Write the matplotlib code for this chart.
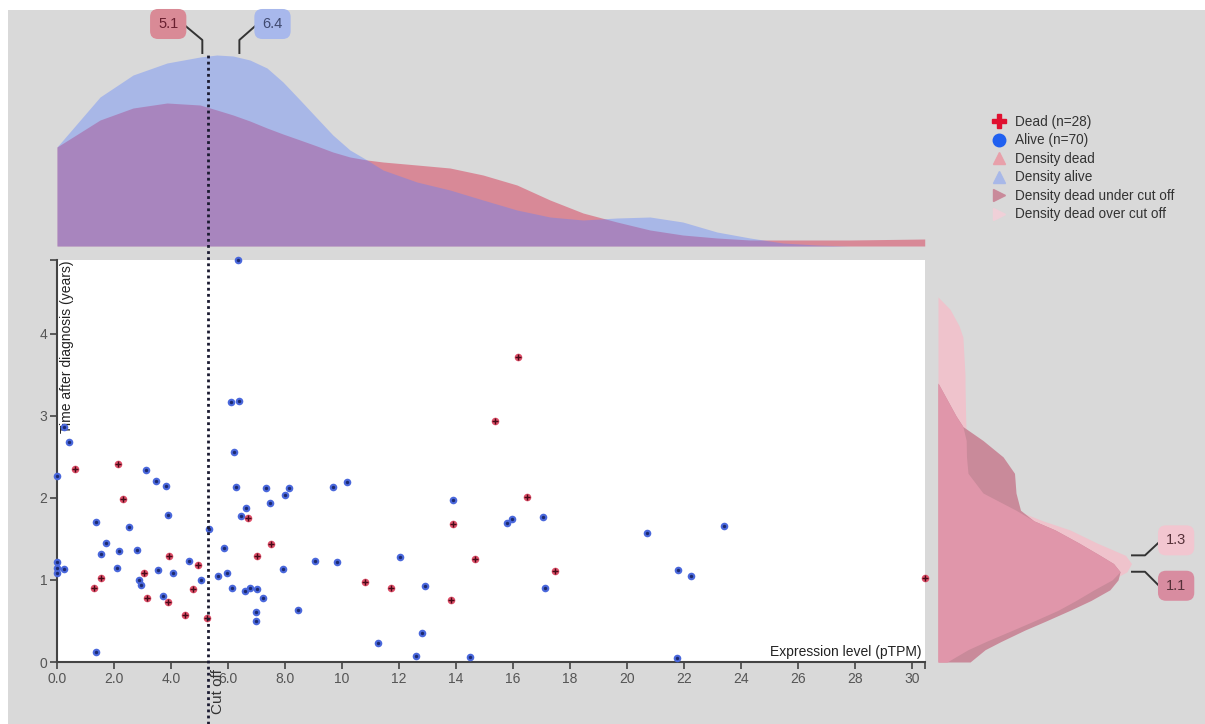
import numpy as np
import matplotlib.pyplot as plt
from matplotlib.lines import Line2D
from matplotlib.patches import Rectangle

plt.rcParams['font.family'] = ['Liberation Sans', 'DejaVu Sans']

# scatter data: expression level (pTPM) vs time after diagnosis (years)
alive_x = [6.34, 0.25, 0.42, 0.00, 3.12, 3.47, 3.81, 3.90, 1.37, 2.53, 1.73, 1.53, 2.19, 2.81,
           2.11, 0.00, 0.00, 0.00, 0.24, 2.88, 2.95, 3.53, 4.08, 3.71, 4.64, 5.04, 5.32, 5.64,
           5.98, 5.86, 6.13, 6.61, 6.77, 7.03, 6.98, 6.98, 7.23, 6.10, 6.37, 6.20, 6.28, 6.63,
           6.47, 7.33, 7.47, 7.99, 8.13, 7.93, 8.47, 1.37, 9.67, 10.18, 13.90, 15.80, 15.96,
           17.05, 20.70, 9.05, 9.81, 12.03, 12.91, 17.12, 12.80, 11.26, 12.60, 14.50, 23.40,
           21.80, 22.25, 21.75]
alive_y = [4.90, 2.87, 2.68, 2.27, 2.34, 2.21, 2.14, 1.79, 1.71, 1.64, 1.45, 1.32, 1.35, 1.36,
           1.14, 1.22, 1.15, 1.08, 1.13, 1.00, 0.94, 1.12, 1.08, 0.80, 1.23, 1.00, 1.62, 1.05,
           1.09, 1.39, 0.90, 0.86, 0.90, 0.89, 0.61, 0.50, 0.78, 3.17, 3.18, 2.56, 2.13, 1.88,
           1.78, 2.12, 1.94, 2.04, 2.12, 1.13, 0.63, 0.12, 2.13, 2.19, 1.97, 1.70, 1.74,
           1.77, 1.57, 1.23, 1.22, 1.28, 0.93, 0.90, 0.35, 0.23, 0.07, 0.06, 1.66,
           1.12, 1.05, 0.05]
dead_x = [0.64, 2.13, 2.30, 3.93, 3.05, 1.54, 1.31, 3.15, 3.88, 4.50, 4.78, 4.96, 5.26,
          6.69, 7.02, 7.50, 16.18, 15.37, 16.50, 13.90, 14.67, 17.47, 10.81, 11.72, 13.82, 30.45]
dead_y = [2.35, 2.41, 1.99, 1.29, 1.09, 1.02, 0.90, 0.78, 0.73, 0.57, 0.89, 1.18, 0.54,
          1.76, 1.29, 1.44, 3.72, 2.94, 2.01, 1.68, 1.26, 1.11, 0.97, 0.90, 0.75, 1.02]

cut_off = 5.3
x_max = 30.46
y_max = 4.9

# top density curves (expression level)
dens_x = [0.0, 1.51, 2.67, 3.86, 5.02, 5.61, 6.18, 6.77, 7.37, 7.93, 8.53, 9.12, 9.68,
          10.28, 10.88, 11.44, 12.63, 13.79, 14.95, 16.14, 17.30, 18.46, 19.65, 20.81,
          21.96, 23.16, 24.32, 25.47, 26.67, 27.82, 30.45]
dens_alive = [0.0495, 0.0745, 0.0855, 0.0915, 0.0945, 0.0955, 0.095, 0.093, 0.089, 0.082,
              0.073, 0.064, 0.0555, 0.048, 0.043, 0.038, 0.032, 0.028, 0.023, 0.018, 0.0145,
              0.013, 0.014, 0.0145, 0.012, 0.007, 0.004, 0.0015, 0.0005, 0.0, 0.0]
dens_dead = [0.0495, 0.063, 0.069, 0.0715, 0.0705, 0.068, 0.0655, 0.0625, 0.059, 0.056,
             0.053, 0.05, 0.047, 0.0445, 0.043, 0.042, 0.0405, 0.039, 0.0355, 0.0305, 0.023,
             0.0165, 0.012, 0.008, 0.0055, 0.004, 0.003, 0.003, 0.003, 0.003, 0.0035]

# right density curves (time after diagnosis), dead patients
dens_t = [0.0, 0.15, 0.25, 0.39, 0.5, 0.63, 0.75, 0.88, 1.0, 1.1, 1.2, 1.3, 1.45, 1.61,
          1.72, 1.85, 2.06, 2.3, 2.5, 2.7, 2.87, 3.0, 3.2, 3.4, 3.5, 3.96, 4.1, 4.3, 4.45]
dens_under = [0.107, 0.157, 0.21, 0.29, 0.36, 0.44, 0.51, 0.573, 0.60, 0.607, 0.585, 0.54,
              0.47, 0.39, 0.32, 0.275, 0.26, 0.255, 0.217, 0.15, 0.083, 0.06, 0.03, 0.0,
              0.0, 0.0, 0.0, 0.0, 0.0]
dens_over = [0.03, 0.10, 0.16, 0.25, 0.32, 0.40, 0.46, 0.52, 0.58, 0.63, 0.645, 0.625,
             0.53, 0.44, 0.35, 0.26, 0.15, 0.10, 0.095, 0.094, 0.093, 0.092, 0.091, 0.09,
             0.09, 0.083, 0.07, 0.04, 0.0]

W, H = 1205, 724
fig = plt.figure(figsize=(W / 100, H / 100), dpi=100)
fig.patch.set_facecolor('white')
fig.add_artist(Rectangle((8 / W, 0), 1 - 8 / W, (H - 10) / H, transform=fig.transFigure,
                         facecolor='#d9d9d9', edgecolor='none', zorder=-5))

left, right, top, bottom = 57, 925, 260, 662
ax = fig.add_axes([left / W, (H - bottom) / H, (right - left) / W, (bottom - top) / H])
ax_top = fig.add_axes([left / W, (H - 246) / H, (right - left) / W, (246 - 10) / H])
ax_r = fig.add_axes([938 / W, (H - bottom) / H, (W - 938) / W, (bottom - top) / H])
ax.set_zorder(3)

# top density panel
ax_top.fill_between(dens_x, dens_dead, color='#d8405c', alpha=0.52, lw=0)
ax_top.fill_between(dens_x, dens_alive, color='#5a80ff', alpha=0.38, lw=0)
ax_top.set_xlim(0, x_max)
ax_top.set_ylim(0, 0.118)
ax_top.axis('off')

# right density panel
ax_r.fill_betweenx(dens_t, dens_over, color='#efc3cc', lw=0)
ax_r.fill_betweenx(dens_t, dens_under, color='#c98a9a', lw=0)
ax_r.fill_betweenx(dens_t, np.minimum(dens_under, dens_over), color='#e096aa', lw=0)
ax_r.set_ylim(0, y_max)
ax_r.set_xlim(0, (W - 938) / 300)
ax_r.axis('off')

# scatter
ax.set_facecolor('white')
ax.scatter(alive_x, alive_y, s=30, color='#4a68dc', lw=0, zorder=4, clip_on=False)
ax.scatter(alive_x, alive_y, s=6, color='#1c2a70', lw=0, zorder=5, clip_on=False)
ax.scatter(dead_x, dead_y, s=30, color='#e0506a', lw=0, zorder=4, clip_on=False)
ax.scatter(dead_x, dead_y, s=14, marker='+', color='#4a0a18', lw=1.0, zorder=5, clip_on=False)

ax.axvline(cut_off, ymin=(bottom - H) / (bottom - top), ymax=(bottom - 53) / (bottom - top),
           clip_on=False, color='#1a1a30', lw=2, linestyle=(0, (1, 1.2)), zorder=6)

ax.set_xlim(0, x_max)
ax.set_ylim(0, y_max)
xt = list(range(0, 31, 2))
ax.set_xticks(xt)
ax.set_xticklabels(['%.1f' % v if v < 10 else '%d' % v for v in xt])
ax.set_yticks([0, 1, 2, 3, 4])
ax.set_xticks([x_max], minor=True)
ax.set_yticks([y_max], minor=True)
for s in ['top', 'right']:
    ax.spines[s].set_visible(False)
for s in ['left', 'bottom']:
    ax.spines[s].set_color('#444444')
    ax.spines[s].set_linewidth(1.5)
ax.tick_params(which='both', direction='out', length=5, width=1.2, color='#444444',
               labelsize=10, labelcolor='#555555', pad=2)

ax.text(0.004, 1.0, 'Time after diagnosis (years)', rotation=90, ha='left', va='top',
        transform=ax.transAxes, fontsize=10, color='#222222')
ax.text(0.9955, 0.008, 'Expression level (pTPM)', ha='right', va='bottom',
        transform=ax.transAxes, fontsize=10, color='#222222')
ax.text(cut_off + 0.1, -0.018, 'Cut off', rotation=90, ha='left', va='top',
        transform=ax.get_xaxis_transform(), fontsize=11, color='#333333')

# value labels with leader lines (pixel offsets from anchor)
def leader(axes, xy, pts, text, fc, tc, ha):
    x0, y0 = axes.transData.transform(xy)
    xs = [x0 + p[0] for p in pts]
    ys = [y0 + p[1] for p in pts]
    fig.add_artist(Line2D(xs, ys, transform=None, color='#333333', lw=1.4, zorder=10))
    fig.text(xs[-1] + (-6 if ha == 'right' else 6), ys[-1] + 1, text, transform=None,
             ha=ha, va='center', fontsize=10.5, color=tc, zorder=11,
             bbox=dict(boxstyle='round,pad=0.55', fc=fc, ec='none'))

peak_top = (246 - 53) / 2000
leader(ax_top, (5.1, peak_top), [(0, 0), (0, 13), (-18, 28)], '5.1', '#d98a96', '#6a2030', 'right')
leader(ax_top, (6.4, peak_top), [(0, 0), (0, 13), (17, 28)], '6.4', '#a8b8ec', '#404a70', 'left')
x_anchor = (1132 - 938) / 300
leader(ax_r, (x_anchor, 1.3), [(0, 0), (13, 0), (28, 14)], '1.3', '#f2c6d0', '#553038', 'left')
leader(ax_r, (x_anchor, 1.1), [(0, 0), (13, 0), (28, -15)], '1.1', '#d88ca0', '#553038', 'left')

handles = [
    Line2D([], [], ls='', marker='P', ms=10, color='#e01030'),
    Line2D([], [], ls='', marker='o', ms=9, color='#2060f0'),
    Line2D([], [], ls='', marker='^', ms=9, color='#e8a0aa'),
    Line2D([], [], ls='', marker='^', ms=9, color='#a8b8e8'),
    Line2D([], [], ls='', marker='>', ms=9, color='#c98a9a'),
    Line2D([], [], ls='', marker='>', ms=9, color='#f0d0d8'),
]
labels = ['Dead (n=28)', 'Alive (n=70)', 'Density dead', 'Density alive',
          'Density dead under cut off', 'Density dead over cut off']
fig.legend(handles, labels, loc='upper left', bbox_to_anchor=(984 / W, 1 - 108 / H),
           frameon=False, fontsize=9.8, labelspacing=0.33, handlelength=1.2,
           handletextpad=0.6, borderpad=0, labelcolor='#333333')

fig.savefig('out.png', dpi=100)
